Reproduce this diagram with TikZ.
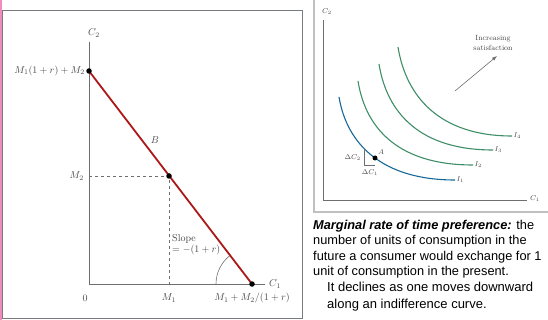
\documentclass[tikz,border=0pt]{standalone}
\usepackage{fontspec}
\usepackage{amsmath}
\usepackage{tikz}
\usetikzlibrary{arrows.meta}
\newfontfamily\notefont{Liberation Sans}
\definecolor{FrameGray}{RGB}{120,124,128}
\definecolor{PanelGray}{RGB}{190,192,194}
\definecolor{AxisGray}{RGB}{110,110,110}
\definecolor{LabelGray}{RGB}{70,70,70}
\definecolor{BudgetRed}{RGB}{172,24,24}
\definecolor{CurveGreen}{RGB}{62,142,104}
\definecolor{CurveBlue}{RGB}{22,104,150}
\definecolor{EdgePink}{RGB}{240,140,190}

\begin{document}
\begin{tikzpicture}[
    x=1pt, y=-1pt,
    frame/.style={draw=FrameGray, line width=1pt},
    axis/.style={draw=AxisGray, line width=0.6pt},
    lbl/.style={font=\fontsize{10}{11}\selectfont, text=LabelGray, inner sep=1pt},
    small/.style={font=\fontsize{7.5}{8.5}\selectfont, text=LabelGray, inner sep=1pt},
    budget/.style={draw=BudgetRed, line width=1.8pt},
    dot/.style={circle, fill=black, inner sep=0pt, minimum size=5.5pt},
    guide/.style={draw=AxisGray, dashed, line width=0.5pt},
    icurve/.style={draw=CurveGreen, line width=1.1pt},
    note/.style={font=\notefont\fontsize{12.8}{15.5}\selectfont, inner sep=0pt,
                 anchor=north west, align=left}
]
    \useasboundingbox (0,0) rectangle (548,320);
    \draw[EdgePink, line width=2pt] (1,0) -- (1,320);

    % left panel: budget line
    \draw[frame] (2.5,11) rectangle (302,318);
    \coordinate (ytop) at (89,42);
    \coordinate (o) at (89,284);
    \coordinate (xend) at (265,284);
    \coordinate (top) at (89,71);
    \coordinate (mid) at (169,176);
    \coordinate (bot) at (252,284);
    \draw[axis] (ytop) -- (o) -- (xend);
    \draw[guide] (mid -| o) -- (mid) -- (mid |- o);
    \draw[axis] (bot) ++(-36,0) arc[start angle=180, end angle=232.7, radius=36];
    \draw[budget] (top) -- (bot);
    \node[dot] (topDot) at (top) {};
    \node[dot] (midDot) at (mid) {};
    \node[dot] (botDot) at (bot) {};
    \node[lbl] (c2Lbl) at (94,33) {$C_2$};
    \node[lbl, anchor=west] (c1Lbl) at (268,284) {$C_1$};
    \node[lbl, anchor=east] (topLbl) at (86,71) {$M_1(1+r)+M_2$};
    \node[lbl, anchor=east] (m2Lbl) at (85,176) {$M_2$};
    \node[lbl] (bLbl) at (155,140) {$B$};
    \node[lbl] (zeroLbl) at (85,298) {$0$};
    \node[lbl] (m1Lbl) at (169,298) {$M_1$};
    \node[lbl] (botLbl) at (252,298) {$M_1+M_2/(1+r)$};
    \node[lbl, anchor=west, align=left] (slopeLbl) at (171,245) {Slope\\$=-(1+r)$};

    % right panel: indifference curves
    \draw[PanelGray, line width=1.5pt] (314,0) -- (314,212) -- (548,212);
    \coordinate (ytop2) at (323,20);
    \coordinate (o2) at (323,200);
    \coordinate (xend2) at (527,200);
    \draw[axis] (ytop2) -- (o2) -- (xend2);
    \node[small] (c2Lbl2) at (327,12) {$C_2$};
    \node[small, anchor=west] (c1Lbl2) at (529,199) {$C_1$};
    \draw[icurve] (398,47) .. controls +(8,50) and +(-72,0) .. (512,136) node[small, anchor=west] (i4Lbl) {$I_4$};
    \draw[icurve] (379,64) .. controls +(8,50) and +(-72,0) .. (493,150) node[small, anchor=west] (i3Lbl) {$I_3$};
    \draw[icurve] (358,81) .. controls +(8,50) and +(-72,0) .. (473,165) node[small, anchor=west] (i2Lbl) {$I_2$};
    \draw[icurve, draw=CurveBlue] (339,97) .. controls +(8,48) and +(-72,0) .. (455,180) node[small, anchor=west] (i1Lbl) {$I_1$};
    \coordinate (triTop) at (364,148);
    \coordinate (triCorner) at (364,165);
    \coordinate (triEnd) at (375,165);
    \draw[axis] (triTop) -- (triCorner) -- (triEnd);
    \node[dot, minimum size=5pt] (aDot) at (375,158) {};
    \node[small, anchor=south west] (aLbl) at (aDot.north east) {$A$};
    \node[small, anchor=east] (dc2Lbl) at (362,158) {$\Delta C_2$};
    \node[small] (dc1Lbl) at (370,173) {$\Delta C_1$};
    \coordinate (arrTail) at (455,91);
    \node[small, align=center, font=\fontsize{7.5}{10}\selectfont] (incLbl) at (493,43) {Increasing\\satisfaction};
    \draw[AxisGray, line width=0.6pt, -{Latex[length=5pt]}] (arrTail) -- (497,56);

    % note text
    \node[note] (defNote) at (313,220) {\textbf{\textit{Marginal rate of time preference:}} the\\
        number of units of consumption in the\\
        future a consumer would exchange for 1\\
        unit of consumption in the present.};
    \node[note, font=\notefont\fontsize{13}{17}\selectfont] (declNote) at (327,282) {It declines as one moves downward\\
        along an indifference curve.};
\end{tikzpicture}
\end{document}
